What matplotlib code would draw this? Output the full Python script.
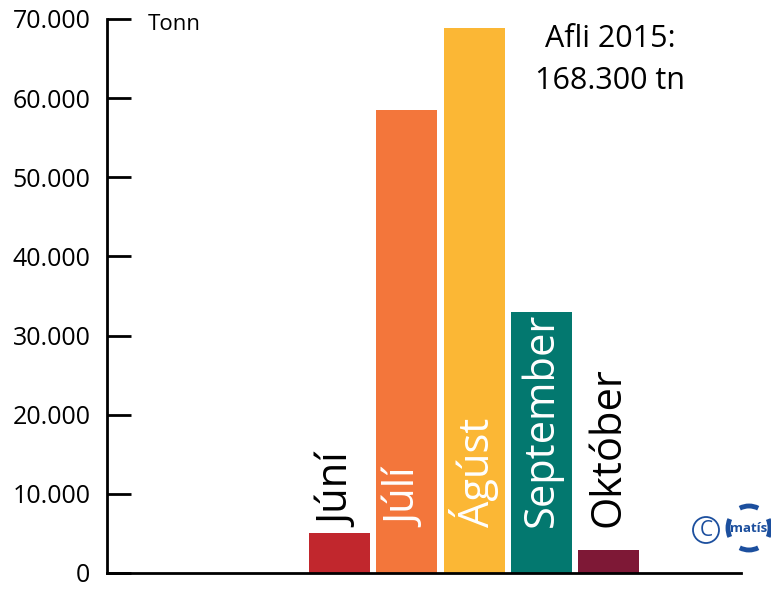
import numpy as np
import matplotlib.pyplot as plt
from matplotlib.patches import Circle, Arc
from matplotlib.ticker import FuncFormatter

# data
months = ['Júní', 'Júlí', 'Ágúst', 'September', 'Október']
catch_tonn = [5100, 58500, 68800, 33000, 2900]
bar_colors = ['#c1272d', '#f3763b', '#fbb735', '#03786f', '#7e1836']
label_colors = ['black', 'white', 'white', 'white', 'black']
yticks = [0, 10000, 20000, 30000, 40000, 50000, 60000, 70000]

plt.rcParams['font.family'] = ['Open Sans', 'DejaVu Sans']

W, H = 771, 591
fig = plt.figure(figsize=(W / 100, H / 100), dpi=100)
ax = fig.add_axes([107 / W, 18 / H, (741 - 107) / W, (573 - 19) / H])

x = np.arange(len(months))
ax.bar(x, catch_tonn, width=0.907, color=bar_colors)

for xi, name, col in zip(x, months, label_colors):
    ax.text(xi, 5800, name, rotation=90, ha='center', va='bottom',
            color=col, fontsize=30)

ax.set_xlim(-3.457, 5.97)
ax.set_ylim(0, 70000)
ax.set_yticks(yticks)
ax.yaxis.set_major_formatter(FuncFormatter(lambda v, p: '0' if v == 0 else f'{int(v):,}'.replace(',', '.')))
ax.set_xticks([])
ax.tick_params(axis='y', direction='in', length=17, width=2, labelsize=18, pad=12)

for s in ['top', 'right']:
    ax.spines[s].set_visible(False)
ax.spines['left'].set_linewidth(2)
ax.spines['bottom'].set_linewidth(2)

fig.text(148 / W, 1 - 25 / H, 'Tonn', fontsize=16, va='center', ha='left')
fig.text(610 / W, 1 - 60 / H, 'Afli 2015:\n168.300 tn', fontsize=22, ha='center', va='center',
         linespacing=1.5)

# logo, drawn in a pixel-sized overlay axes
lax = fig.add_axes([0, 0, 1, 1], zorder=5)
lax.set_xlim(0, W)
lax.set_ylim(H, 0)
lax.axis('off')
blue = '#1c4f9e'
lax.add_patch(Circle((706, 530), 13, fill=False, ec=blue, lw=1.3, clip_on=False))
lax.text(706, 530, 'C', color=blue, fontsize=15, ha='center', va='center')
cx, cy = 749, 528
for t1, t2 in [(65, 115), (155, 205), (245, 295), (335, 25)]:
    lax.add_patch(Arc((cx, cy), 42, 44, theta1=t1, theta2=t2, color=blue, lw=3.5, clip_on=False))
lax.text(cx, cy, 'matís', color=blue, fontsize=9.5, fontweight='bold', ha='center', va='center')

fig.savefig('out.png', dpi=100)
